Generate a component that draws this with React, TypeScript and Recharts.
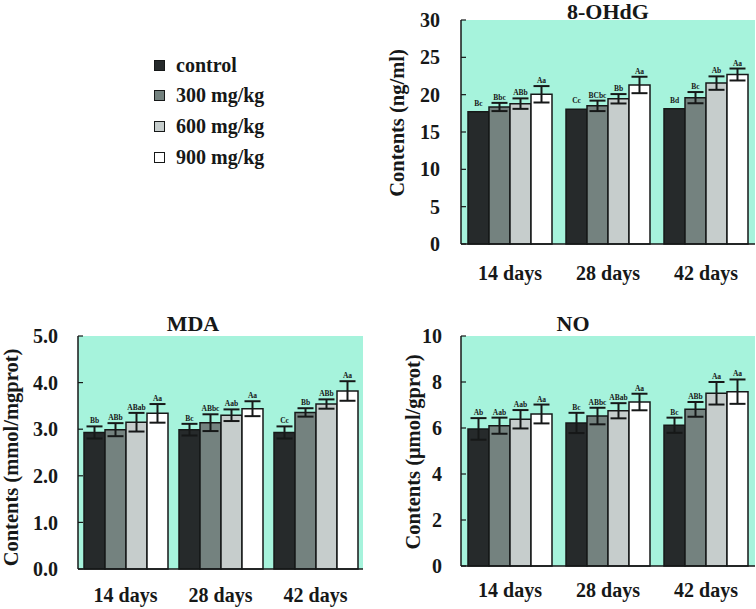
import { Bar, BarChart, CartesianGrid, ErrorBar, LabelList, XAxis, YAxis } from 'recharts'

const FONT = "'Liberation Serif', 'Times New Roman', serif"
const TEAL = '#a6f3dc'
const INK = '#161818'

const days = ['14 days', '28 days', '42 days']
const doses = ['control', '300 mg/kg', '600 mg/kg', '900 mg/kg']
const doseColors = ['#262a2b', '#74827f', '#c6cdcc', '#ffffff']

// rows = days, columns = doses
const ohdgMean = [
  [17.7, 18.35, 18.8, 20.05],
  [18.05, 18.5, 19.45, 21.3],
  [18.1, 19.6, 21.55, 22.7],
]
const ohdgErr = [
  [0, 0.55, 0.7, 1.1],
  [0, 0.7, 0.63, 1.1],
  [0, 0.75, 0.9, 0.8],
]
const ohdgLetters = [
  ['Bc', 'Bbc', 'ABb', 'Aa'],
  ['Cc', 'BCbc', 'Bb', 'Aa'],
  ['Bd', 'Bc', 'Ab', 'Aa'],
]
const ohdgTicks = [0, 5, 10, 15, 20, 25, 30]

const mdaMean = [
  [2.93, 2.99, 3.15, 3.34],
  [2.99, 3.14, 3.3, 3.44],
  [2.93, 3.36, 3.54, 3.82],
]
const mdaErr = [
  [0.13, 0.14, 0.2, 0.2],
  [0.125, 0.18, 0.125, 0.16],
  [0.13, 0.09, 0.1, 0.21],
]
const mdaLetters = [
  ['Bb', 'ABb', 'ABab', 'Aa'],
  ['Bc', 'ABbc', 'Aab', 'Aa'],
  ['Cc', 'Bb', 'ABb', 'Aa'],
]
const mdaTicks = [0, 1, 2, 3, 4, 5]

const noMean = [
  [5.96, 6.1, 6.38, 6.61],
  [6.22, 6.52, 6.75, 7.13],
  [6.12, 6.81, 7.51, 7.58],
]
const noErr = [
  [0.47, 0.35, 0.4, 0.41],
  [0.44, 0.36, 0.33, 0.36],
  [0.33, 0.32, 0.49, 0.53],
]
const noLetters = [
  ['Ab', 'Aab', 'Aab', 'Aa'],
  ['Bc', 'ABbc', 'ABab', 'Aa'],
  ['Bc', 'ABb', 'Aa', 'Aa'],
]
const noTicks = [0, 2, 4, 6, 8, 10]

function buildRows(mean: number[][], err: number[][]) {
  return days.map((day, i) => {
    const row: Record<string, string | number> = { day }
    doses.forEach((_, j) => {
      row[`v${j}`] = mean[i][j]
      row[`e${j}`] = err[i][j]
    })
    return row
  })
}

// significance letters sit just above the error bar (or the bar when there is none)
const letterContent = (letters: string[], errs: number[]) => (p: any) => {
  const v = Number(p.value)
  const x = Number(p.x)
  const y = Number(p.y)
  const w = Number(p.width)
  const h = Number(p.height)
  const errPx = v ? (h / v) * errs[p.index] : 0
  const base = errPx > 0 ? y - errPx - 3 : y - 6
  return (
    <text
      x={x + w / 2}
      y={base}
      textAnchor='middle'
      fontSize={7.5}
      fontWeight='bold'
      fontFamily={FONT}
      fill={INK}
    >
      {letters[p.index]}
    </text>
  )
}

type PanelProps = {
  mean: number[][]
  err: number[][]
  letters: string[][]
  ticks: number[]
  fmt: (v: number) => string
  yLabel: string
  width: number
  height: number
  right: number
  top: number
  yWidth: number
  xHeight: number
  xTickMargin: number
  yTickGap: number
  yLabelX: number
  yLabelDy: number
  gap: number
}

function Panel(p: PanelProps) {
  const rows = buildRows(p.mean, p.err)
  const tickFont = { fill: INK, fontSize: 20, fontWeight: 'bold', fontFamily: FONT }
  return (
    <BarChart
      width={p.width}
      height={p.height}
      data={rows}
      margin={{ top: p.top, right: p.right, left: 0, bottom: 0 }}
      barGap={0}
      barCategoryGap={p.gap}
    >
      <CartesianGrid horizontal={false} vertical={false} fill={TEAL} stroke='none' />
      <XAxis
        dataKey='day'
        height={p.xHeight}
        tickLine={false}
        tickSize={0}
        tickMargin={p.xTickMargin}
        axisLine={{ stroke: INK, strokeWidth: 1.5 }}
        tick={tickFont}
      />
      <YAxis
        type='number'
        width={p.yWidth}
        domain={[p.ticks[0], p.ticks[p.ticks.length - 1]]}
        ticks={p.ticks}
        tickFormatter={p.fmt}
        tickSize={-5}
        tickMargin={p.yTickGap + 5}
        tickLine={{ stroke: INK, strokeWidth: 1.2 }}
        axisLine={{ stroke: INK, strokeWidth: 1.5 }}
        tick={tickFont}
        label={{
          content: (lp: any) => {
            const vb = lp.viewBox || { x: 0, y: p.top, width: p.yWidth, height: 200 }
            const cx = vb.x + p.yLabelX
            const cy = vb.y + vb.height / 2 + p.yLabelDy
            return (
              <text
                x={cx}
                y={cy}
                transform={`rotate(-90, ${cx}, ${cy})`}
                textAnchor='middle'
                dominantBaseline='central'
                fontSize={20.5}
                fontWeight='bold'
                fontFamily={FONT}
                fill={INK}
              >
                {p.yLabel}
              </text>
            )
          },
        }}
      />
      {doses.map((d, j) => (
        <Bar
          key={d}
          dataKey={`v${j}`}
          name={d}
          fill={doseColors[j]}
          stroke={INK}
          strokeWidth={1.5}
          isAnimationActive={false}
        >
          <ErrorBar dataKey={`e${j}`} width={8} strokeWidth={2} stroke={INK} direction='y' />
          <LabelList
            dataKey={`v${j}`}
            content={letterContent(
              p.letters.map((r) => r[j]),
              p.err.map((r) => r[j])
            )}
          />
        </Bar>
      ))}
    </BarChart>
  )
}

const titleStyle = (cx: number, top: number): React.CSSProperties => ({
  position: 'absolute',
  left: cx - 100,
  top,
  width: 200,
  textAlign: 'center',
  fontSize: 22,
  lineHeight: '22px',
  fontWeight: 'bold',
  fontFamily: FONT,
  color: INK,
})

const legendRows = [65, 95, 126, 157]

export default function App() {
  return (
    <div
      style={{
        position: 'absolute',
        left: 0,
        top: 0,
        width: 756,
        height: 609,
        background: '#fff',
        overflow: 'hidden',
      }}
    >
      {doses.map((d, j) => (
        <div
          key={d}
          style={{
            position: 'absolute',
            left: 154,
            top: legendRows[j] - 12,
            height: 24,
            display: 'flex',
            alignItems: 'center',
            fontFamily: FONT,
            fontWeight: 'bold',
            fontSize: 20,
            color: INK,
            whiteSpace: 'nowrap',
          }}
        >
          <span
            style={{
              display: 'inline-block',
              width: 9,
              height: 9,
              background: doseColors[j],
              border: `1.5px solid ${INK}`,
              marginRight: 11,
            }}
          />
          {d}
        </div>
      ))}

      <div style={titleStyle(608, 1)}>8-OHdG</div>
      <div style={titleStyle(193, 313)}>MDA</div>
      <div style={titleStyle(573, 313)}>NO</div>

      <div style={{ position: 'absolute', left: 380, top: 0 }}>
        <Panel
          mean={ohdgMean}
          err={ohdgErr}
          letters={ohdgLetters}
          ticks={ohdgTicks}
          fmt={(v) => String(v)}
          yLabel='Contents (ng/ml)'
          width={376}
          height={300}
          right={1}
          top={20}
          yWidth={81}
          xHeight={56}
          xTickMargin={22}
          yTickGap={21}
          yLabelX={17}
          yLabelDy={-9}
          gap={7}
        />
      </div>

      <div style={{ position: 'absolute', left: 0, top: 300 }}>
        <Panel
          mean={mdaMean}
          err={mdaErr}
          letters={mdaLetters}
          ticks={mdaTicks}
          fmt={(v) => v.toFixed(1)}
          yLabel='Contents (mmol/mgprot)'
          width={380}
          height={309}
          right={17}
          top={36}
          yWidth={78}
          xHeight={40}
          xTickMargin={19}
          yTickGap={20}
          yLabelX={11}
          yLabelDy={5}
          gap={6}
        />
      </div>

      <div style={{ position: 'absolute', left: 380, top: 300 }}>
        <Panel
          mean={noMean}
          err={noErr}
          letters={noLetters}
          ticks={noTicks}
          fmt={(v) => String(v)}
          yLabel='Contents (μmol/gprot)'
          width={376}
          height={309}
          right={1}
          top={36}
          yWidth={81}
          xHeight={43}
          xTickMargin={17}
          yTickGap={19}
          yLabelX={33}
          yLabelDy={1}
          gap={7}
        />
      </div>
    </div>
  )
}
